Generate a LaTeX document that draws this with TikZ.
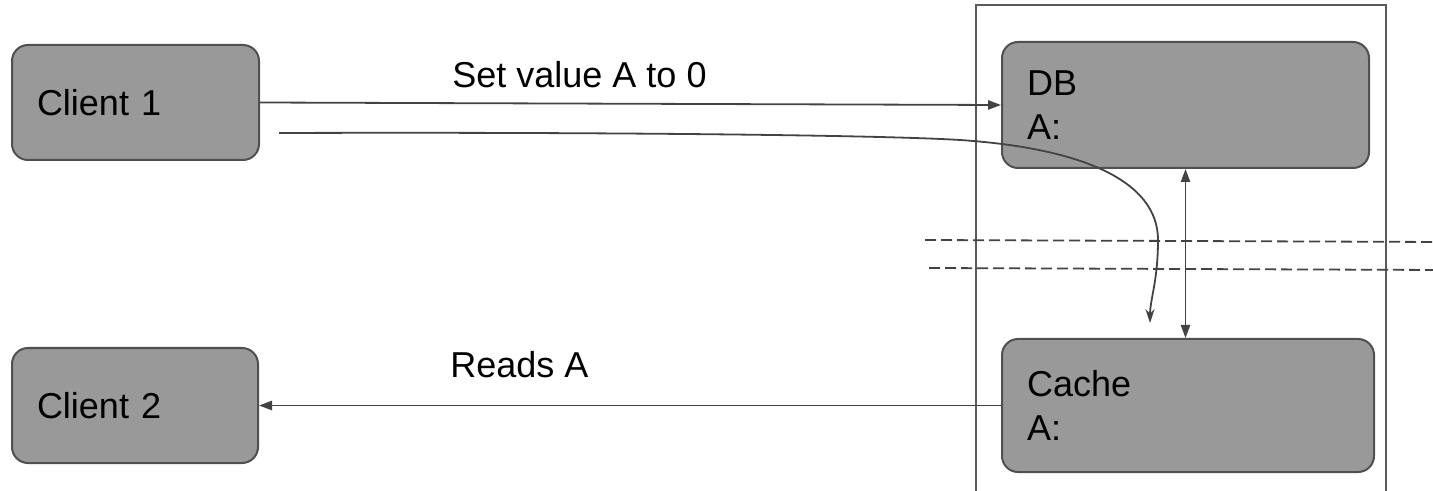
\documentclass[tikz,border=0pt]{standalone}
\usepackage{fontspec}
\setmainfont{Liberation Sans}
\usetikzlibrary{arrows.meta}
\definecolor{boxfill}{HTML}{999999}
\definecolor{boxline}{HTML}{505050}
\definecolor{conn}{HTML}{434343}
\definecolor{frame}{HTML}{5A5A5A}
\tikzset{
  box/.style={draw=boxline, line width=1pt, fill=boxfill, rounded corners=8pt,
    inner xsep=12.5pt, inner ysep=0pt, align=left, anchor=center,
    font=\fontsize{18}{22}\selectfont},
  conn/.style={draw=conn, line width=0.9pt},
  tip/.style={-{Triangle[length=6.5pt,width=4.6pt]}},
  lbl/.style={font=\fontsize{18}{22}\selectfont, inner sep=0pt, anchor=base west},
  sep/.style={draw=conn, line width=0.9pt, dash pattern=on 5.5pt off 2.5pt},
}
\begin{document}
\begin{tikzpicture}[x=0.5pt,y=-0.5pt]
\useasboundingbox (0,0) rectangle (1433,491);
% container
\draw[frame, line width=1pt] (976,500) -- (976,5) -- (1386,5) -- (1386,500);
% separators
\draw[sep] (925,240) -- (1440,242);
\draw[sep] (929,268) -- (1440,270);
% boxes
\node[box, text width=98.5pt, minimum height=57.5pt] (c1) at (135.5,102.5) {Client 1};
\node[box, text width=98pt, minimum height=57.5pt] (c2) at (135,405.5) {Client 2};
\node[box, text width=158.5pt, minimum height=63pt] (db) at (1185.5,105) {DB\\A:};
\node[box, text width=161pt, minimum height=66.5pt] (cache) at (1188,405.5) {Cache\\A:};
% labels
\node[lbl] (l1) at (452,88) {Set value A to 0};
\node[lbl] (l2) at (450,378) {Reads A};
% connectors
\draw[conn, tip] (c1.east) -- (db.west);
\draw[conn, tip] (cache.west) -- (c2.east);
\draw[conn, {Triangle[length=6.5pt,width=4.6pt]}-{Triangle[length=6.5pt,width=4.6pt]}] (db.south) -- (db.south |- cache.north);
\coordinate (cs) at (279,133);
\coordinate (ce) at (1150,323);
\draw[conn, -{Stealth[length=7pt,width=4.6pt]}] (cs) .. controls (600,132) and (880,135) .. (960,140)
  .. controls (1080,148) and (1158,180) .. (1158,240)
  .. controls (1158,280) and (1150,300) .. (ce);
\end{tikzpicture}
\end{document}
